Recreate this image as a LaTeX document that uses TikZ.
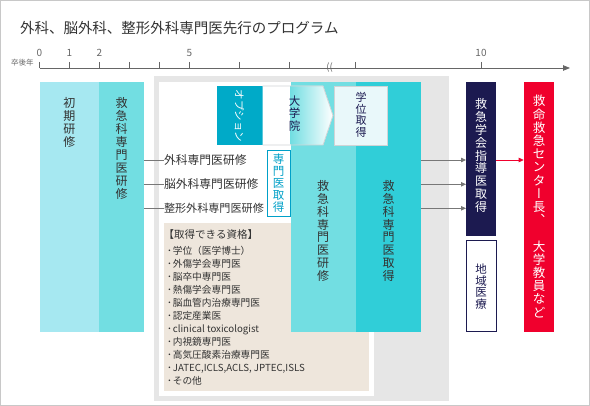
\documentclass[tikz,border=0pt]{standalone}
\usepackage{fontspec}
\setmainfont{Noto Sans CJK JP}
\newfontfamily\vertfont[RawFeature=+vert]{Noto Sans CJK JP}
\usetikzlibrary{arrows.meta}
\newcommand\myfs[2]{\fontsize{#1}{#2}\selectfont}
\definecolor{cyanL}{HTML}{A6E8F1}
\definecolor{cyanM}{HTML}{72DEE2}
\definecolor{cyanD}{HTML}{30CED8}
\definecolor{optTeal}{HTML}{00AAC8}
\definecolor{tealT}{HTML}{00A0C8}
\definecolor{navyC}{HTML}{1C1A50}
\definecolor{redC}{HTML}{F0002D}
\definecolor{panelG}{HTML}{E6E6E6}
\definecolor{beigeC}{HTML}{EEE6DC}
\definecolor{txtC}{HTML}{333333}
\definecolor{lineC}{HTML}{777777}
\definecolor{axisC}{HTML}{666666}
\definecolor{borderC}{HTML}{C8C8C8}
\definecolor{penB}{HTML}{D0D4D6}
\definecolor{degreeF}{HTML}{E9F8FA}
\begin{document}
\begin{tikzpicture}[x=1pt,y=-1pt,
  blk/.style={inner sep=0pt, outer sep=0pt, draw=none, anchor=north west},
  vt/.style={align=center, inner sep=0pt, outer sep=0pt},
  lbl/.style={inner sep=0pt, outer sep=0pt, anchor=west, text=txtC},
  tline/.style={draw=axisC, line width=0.8pt},
  tick/.style={inner sep=0pt, text=axisC, font=\myfs{10}{12}},
  branch/.style={draw=lineC, line width=0.8pt},
  arr/.style={draw=lineC, line width=0.8pt, -{Triangle[length=5pt,width=4.5pt]}},
]
\useasboundingbox (0,0) rectangle (590,406);
\draw[borderC, line width=1pt] (0.5,0.5) rectangle (589.5,405.5);

% title
\node[lbl, font=\myfs{14.5}{16}] (title) at (20,28) {外科、脳外科、整形外科専門医先行のプログラム};

% timeline
\coordinate (tl0) at (39.5,68);
\coordinate (tlE) at (570,68);
\draw[tline, -{Triangle[length=7pt,width=5.5pt]}] (tl0) -- (tlE);
\foreach \x in {39.5,69.5,99.5,129.5,159.5,189.5,239.5,289.5,355,481}
  \draw[tline] (\x,62) -- (\x,68);
\node[tick] (y0) at (39.5,53) {0};
\node[tick] (y1) at (69.5,53) {1};
\node[tick] (y2) at (99.5,53) {2};
\node[tick] (y5) at (189.5,53) {5};
\node[tick] (y10) at (481,53) {10};
\node[inner sep=0pt, text=axisC, font=\myfs{7.5}{9}] (yr) at (22.5,63) {卒後年};
\node[inner sep=0pt, text=axisC, font=\myfs{9.5}{11}] (brk) at (329.5,67.5) {((};

% panels
\node[blk, fill=panelG, minimum width=295pt, minimum height=324.5pt] (gp) at (154,76.5) {};
\node[blk, fill=white, minimum width=215pt, minimum height=314pt] (wp) at (158.5,82) {};
\node[blk, fill=beigeC, minimum width=205pt, minimum height=167.4pt] (bg) at (164,223.3) {};

% left boxes
\node[blk, fill=cyanL, minimum width=59.5pt, minimum height=250pt] (b1) at (39.5,82) {};
\node[blk, fill=cyanM, minimum width=45pt, minimum height=250pt] (b2) at (99,82) {};
\node[vt, text=txtC, font=\myfs{12}{12.8}] (b1t) at (69.3,122.5) {初\\期\\研\\修};
\node[vt, text=txtC, font=\myfs{12}{12.9}] (b2t) at (121.7,148.5) {救\\急\\科\\専\\門\\医\\研\\修};

% big cyan boxes
\node[blk, fill=cyanM, minimum width=65.5pt, minimum height=250pt] (cA) at (290.5,82) {};
\node[blk, fill=cyanD, minimum width=65pt, minimum height=250pt] (cB) at (356,82) {};
\node[vt, text=txtC, font=\myfs{12}{12.75}] (cAt) at (323,231) {救\\急\\科\\専\\門\\医\\研\\修};
\node[vt, text=txtC, font=\myfs{12}{12.75}] (cBt) at (388.5,231) {救\\急\\科\\専\\門\\医\\取\\得};

% option, graduate school, degree
\node[blk, fill=optTeal, minimum width=45.4pt, minimum height=59pt] (opt) at (217.3,86) {};
\node[rotate=-90, inner sep=0pt, text=white, font=\myfs{10.5}{12}] (optT) at (239.5,116) {オプション};
\fill[white] (262.7,86) -- (323,86) -- (333,115.5) -- (323,145) -- (262.7,145) -- cycle;
\begin{scope}
  \clip (262.7,86) -- (323,86) -- (333,115.5) -- (323,145) -- (262.7,145) -- cycle;
  \shade[left color=cyanM, right color=white] (290.5,86) rectangle (333,145);
\end{scope}
\draw[penB, line width=0.8pt] (262.7,86) -- (323,86) -- (333,115.5) -- (323,145) -- (262.7,145);
\node[vt, text=navyC, font=\myfs{11.5}{12.3}] (gs) at (294.5,113.5) {大\\学\\院};
\node[blk, fill=degreeF, draw=penB, line width=0.8pt, minimum width=53.7pt, minimum height=59pt] (deg) at (334,86) {};
\node[vt, text=navyC, font=\myfs{11}{11.5}] (degT) at (361,115) {学\\位\\取\\得};

% specialist acquired box
\node[blk, fill=white, draw=tealT, line width=1pt, minimum width=22.7pt, minimum height=66pt] (sp) at (267.3,150.7) {};
\node[vt, text=tealT, font=\myfs{11.5}{12}] (spT) at (278.5,183.5) {専\\門\\医\\取\\得};

% branches
\node[lbl, font=\myfs{11.8}{13}] (t1) at (164,160) {外科専門医研修};
\node[lbl, font=\myfs{11.8}{13}] (t2) at (164,184.3) {脳外科専門医研修};
\node[lbl, font=\myfs{11.1}{13}] (t3) at (164,208.3) {整形外科専門医研修};
\draw[branch] (b2.east |- t1.west) -- (t1.west);
\draw[branch] (b2.east |- t2.west) -- (t2.west);
\draw[branch] (b2.east |- t3.west) -- (t3.west);

% qualifications
\node[anchor=base west, inner sep=0pt, text=txtC, font=\myfs{10.5}{12}] (qh) at (163.5,239) {【取得できる資格】};
\foreach \t [count=\i] in {学位（医学博士）, 外傷学会専門医, 脳卒中専門医, 熱傷学会専門医, 脳血管内治療専門医, 認定産業医, clinical toxicologist, 内視鏡専門医, 高気圧酸素治療専門医, {JATEC,ICLS,ACLS, JPTEC,ISLS}, その他}
  \node[anchor=base west, inner sep=0pt, text=txtC, font=\myfs{9.7}{12}] (q\i) at (167,{254.4+13*(\i-1)}) {･\kern0.8pt\t};

% right column
\node[blk, fill=navyC, minimum width=30pt, minimum height=153.7pt] (nv) at (466,82) {};
\node[vt, text=white, font=\myfs{12}{12.8}] (nvT) at (481,155.5) {救\\急\\学\\会\\指\\導\\医\\取\\得};
\node[blk, fill=white, draw=navyC, line width=1pt, minimum width=30pt, minimum height=90.7pt] (rm) at (466,241) {};
\node[vt, text=navyC, font=\myfs{11.5}{11.7}] (rmT) at (481,286.5) {地\\域\\医\\療};
\node[blk, fill=redC, minimum width=30pt, minimum height=250pt] (rd) at (523.7,82) {};
\node[vt, text=white, font=\myfs{12.5}{13.2}] (rdT) at (539,206.5) {救\\命\\救\\急\\セ\\ン\\タ\\{\vertfont ー}\\長\\{\vertfont 、}\\\phantom{大}\\大\\学\\教\\員\\な\\ど};

\draw[arr] (cB.east |- t1.west) -- (nv.west |- t1.west);
\draw[arr] (cB.east |- t2.west) -- (nv.west |- t2.west);
\draw[arr] (cB.east |- t3.west) -- (nv.west |- t3.west);
\draw[arr, draw=redC] (nv.east |- t1.west) -- (rd.west |- t1.west);
\end{tikzpicture}
\end{document}
